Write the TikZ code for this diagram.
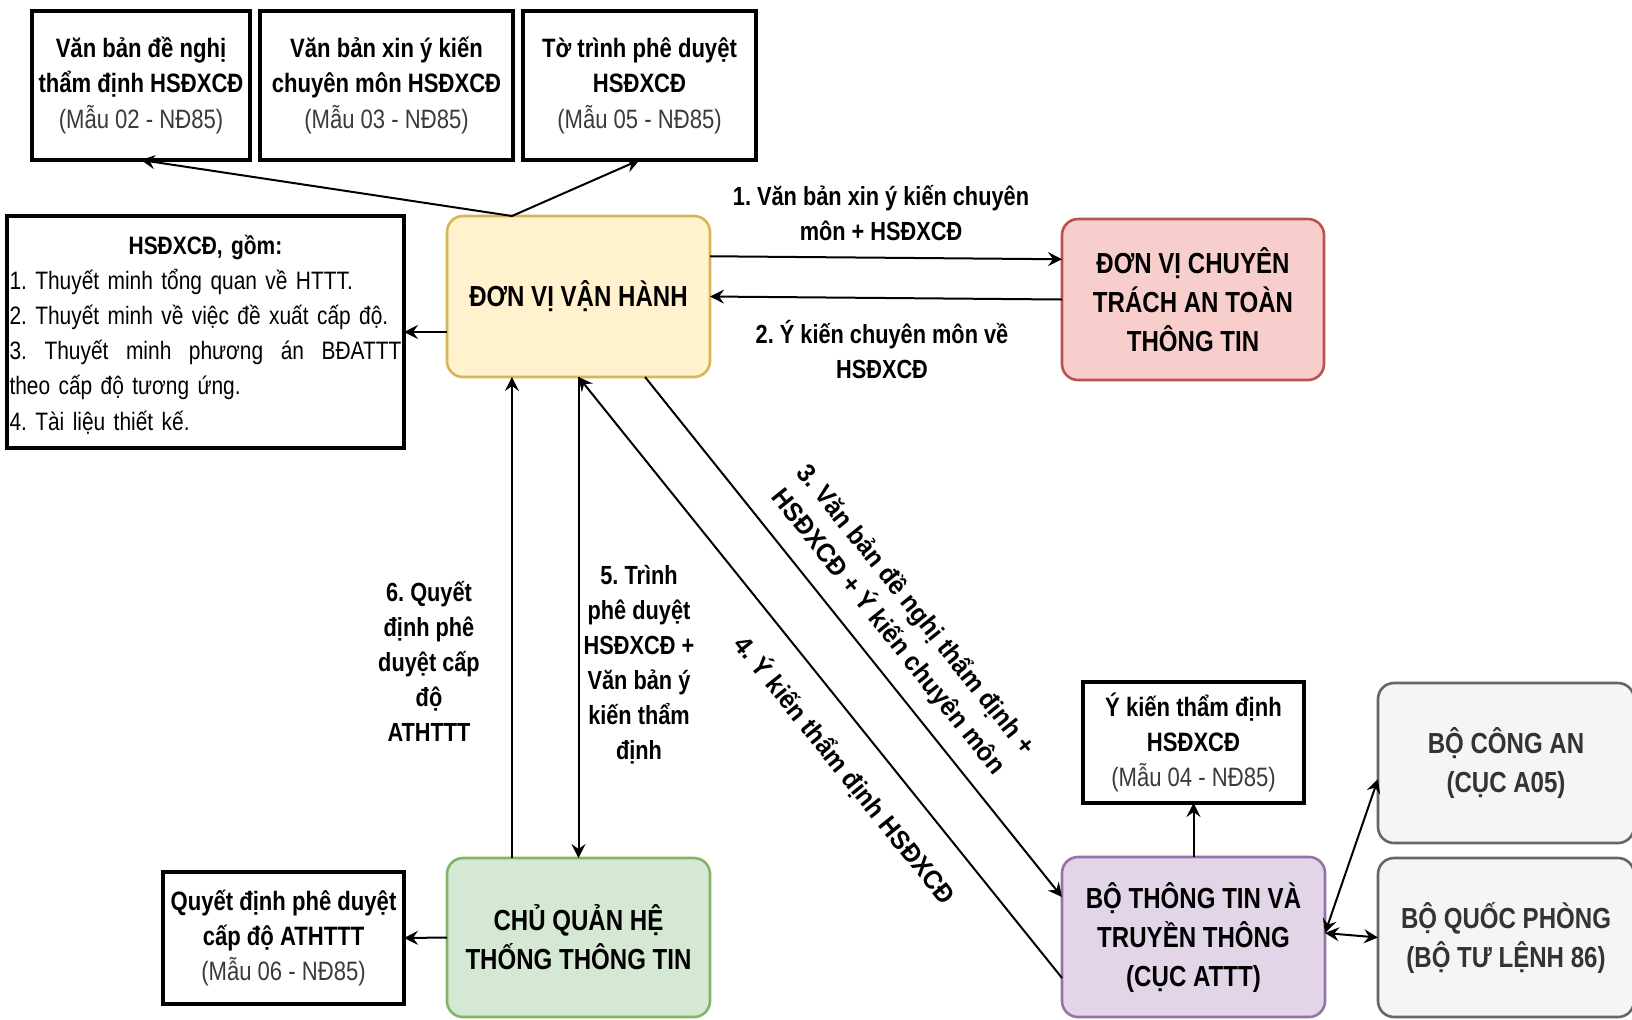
\documentclass[tikz,border=0pt]{standalone}
\usepackage{fontspec}
\setmainfont{Liberation Sans}[FakeStretch=0.83]
\newfontfamily\slantlabelfont{Liberation Sans}[FakeStretch=0.94]
\usetikzlibrary{arrows.meta,calc}

\definecolor{vhfill}{HTML}{FFF2CC}\definecolor{vhline}{HTML}{D6B656}
\definecolor{ctfill}{HTML}{F8CECC}\definecolor{ctline}{HTML}{B85450}
\definecolor{cqfill}{HTML}{D5E8D4}\definecolor{cqline}{HTML}{82B366}
\definecolor{btfill}{HTML}{E1D5E7}\definecolor{btline}{HTML}{9673A6}
\definecolor{grfill}{HTML}{F5F5F5}\definecolor{grline}{HTML}{666666}
\definecolor{grtext}{HTML}{333333}
\definecolor{formgray}{HTML}{3A3A3A}

% form reference line under a document title
\newcommand\formref[1]{{\mdseries\color{formgray}#1}}
% stretchable gap for the justified list line
\newcommand\jgap{\hspace{0pt plus 1fil}}

\begin{document}
\frenchspacing
\begin{tikzpicture}[x=0.5pt,y=-0.5pt,
  every node/.style={inner sep=0pt, outer sep=0pt},
  docbox/.style={draw=black, line width=1.6pt, fill=white, align=center,
    font=\fontsize{13.3}{17.7}\selectfont\bfseries},
  unitbox/.style={rounded corners=8pt, line width=1.3pt, align=center,
    font=\fontsize{14.5}{19.5}\selectfont\bfseries},
  flowlbl/.style={align=center, font=\fontsize{13.1}{17.5}\selectfont\bfseries},
  slantlbl/.style={align=center, font=\slantlabelfont\fontsize{13.1}{17.5}\selectfont\bfseries},
  tip/.tip={Stealth[length=7pt,width=7pt,inset=2.5pt]},
  arr/.style={-tip, line width=1pt},
  dblarr/.style={tip-tip, line width=1pt},
]
\fill[white] (0,0) rectangle (1632,1019);
\useasboundingbox (0,0) rectangle (1632,1019);

% documents produced by the operating unit
\node[docbox, minimum width=109pt, minimum height=74.5pt] (A) at (141,85.5)
  {Văn bản đề nghị\\thẩm định HSĐXCĐ\\\formref{(Mẫu 02 - NĐ85)}};
\node[docbox, minimum width=126.5pt, minimum height=74.5pt] (B) at (386.5,85.5)
  {Văn bản xin ý kiến\\chuyên môn HSĐXCĐ\\\formref{(Mẫu 03 - NĐ85)}};
\node[docbox, minimum width=116.5pt, minimum height=74.5pt] (C) at (639.5,85.5)
  {Tờ trình phê duyệt\\HSĐXCĐ\\\formref{(Mẫu 05 - NĐ85)}};

% dossier contents
\node[draw=black, line width=1.6pt, fill=white, minimum width=198.5pt, minimum height=116pt,
      text width=196pt, inner xsep=1pt, align=left,
      font=\fontsize{12.6}{17.6}\selectfont] (HS) at (205.5,332)
  {\makebox[196pt]{\rule{0pt}{12pt}\bfseries HSĐXCĐ, gồm:}\\
   1. Thuyết minh tổng quan về HTTT.\\
   2. Thuyết minh về việc đề xuất cấp độ.\\
   \makebox[196pt][s]{3.\jgap Thuyết\jgap minh\jgap phương\jgap án\jgap BĐATTT}\\
   theo cấp độ tương ứng.\\
   4. Tài liệu thiết kế.};

% organisations
\node[unitbox, draw=vhline, fill=vhfill, minimum width=131.5pt, minimum height=80.5pt] (VH) at (578.5,296.5)
  {ĐƠN VỊ VẬN HÀNH};
\node[unitbox, draw=ctline, fill=ctfill, minimum width=131pt, minimum height=80.5pt] (CT) at (1193,299.5)
  {ĐƠN VỊ CHUYÊN\\TRÁCH AN TOÀN\\THÔNG TIN};
\node[unitbox, draw=cqline, fill=cqfill, minimum width=131.5pt, minimum height=79.5pt] (CQ) at (578.5,937.5)
  {CHỦ QUẢN HỆ\\THỐNG THÔNG TIN};
\node[unitbox, draw=btline, fill=btfill, minimum width=131.5pt, minimum height=80pt] (BT) at (1193.5,937)
  {BỘ THÔNG TIN VÀ\\TRUYỀN THÔNG\\(CỤC ATTT)};
\node[unitbox, draw=grline, fill=grfill, text=grtext, minimum width=128pt, minimum height=80pt] (CA) at (1506,763)
  {BỘ CÔNG AN\\(CỤC A05)};
\node[unitbox, draw=grline, fill=grfill, text=grtext, minimum width=128pt, minimum height=79.5pt] (QP) at (1506,937.5)
  {BỘ QUỐC PHÒNG\\(BỘ TƯ LỆNH 86)};

% result documents
\node[docbox, minimum width=120.5pt, minimum height=66pt] (QD) at (283.5,938)
  {Quyết định phê duyệt\\cấp độ ATHTTT\\\formref{(Mẫu 06 - NĐ85)}};
\node[docbox, minimum width=110.5pt, minimum height=60.5pt] (YK) at (1193.5,742.5)
  {Ý kiến thẩm định\\HSĐXCĐ\\\formref{(Mẫu 04 - NĐ85)}};

% step labels
\node[flowlbl] (l1) at (881,213) {1. Văn bản xin ý kiến chuyên\\môn + HSĐXCĐ};
\node[flowlbl] (l2) at (882,350) {2. Ý kiến chuyên môn về\\HSĐXCĐ};
\node[slantlbl, rotate=-51.3] (l3) at (902,621) {3. Văn bản đề nghị thẩm định +\\HSĐXCĐ + Ý kiến chuyên môn};
\node[slantlbl, rotate=-51.2] (l4) at (845,770) {4. Ý kiến thẩm định HSĐXCĐ};
\node[flowlbl] (l5) at (639,665) {5. Trình\\phê duyệt\\HSĐXCĐ +\\Văn bản ý\\kiến thẩm\\định};
\node[flowlbl] (l6) at (429,661) {6. Quyết\\định phê\\duyệt cấp\\độ\\ATHTTT};

% connectors
\coordinate (vhT) at ($(VH.north west)!0.247!(VH.north east)$);
\draw[arr] (vhT) -- (A.south);
\draw[arr] (vhT) -- (C.south);
\draw[arr] (VH.west |- HS.east) -- (HS.east);
\draw[arr] ($(VH.north east)!0.25!(VH.south east)$) -- ($(CT.north west)!0.25!(CT.south west)$);
\draw[arr] (CT.west) -- (VH.east);
\draw[arr] ($(CQ.north west)!0.247!(CQ.north east)$) -- ($(VH.south west)!0.247!(VH.south east)$);
\draw[arr] (VH.south) -- (CQ.north);
\draw[arr] ($(VH.south west)!0.753!(VH.south east)$) -- ($(BT.north west)!0.25!(BT.south west)$);
\draw[arr] ($(BT.north west)!0.756!(BT.south west)$) -- (VH.south);
\draw[arr] (BT.north) -- (YK.south);
\draw[arr] (CQ.west) -- (QD.east);
\coordinate (btR) at ($(BT.north east)!0.475!(BT.south east)$);
\draw[dblarr] (btR) -- ($(CA.north west)!0.6!(CA.south west)$);
\draw[dblarr] (btR) -- (QP.west);
\end{tikzpicture}
\end{document}
